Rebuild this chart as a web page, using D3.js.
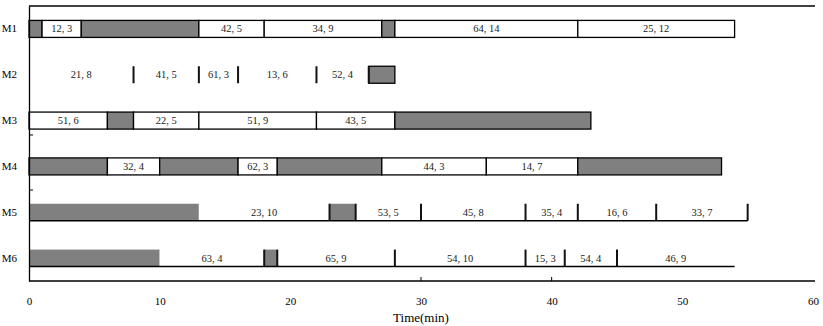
<!DOCTYPE html>
<html><head><meta charset="utf-8">
<script src="https://cdn.jsdelivr.net/npm/d3@7"></script>
<style>body{margin:0;background:#fff}svg{display:block}</style>
</head><body><svg id="c" width="823" height="326"></svg>
<script>
const machines = ["M1","M2","M3","M4","M5","M6"];
const xTicks = [0,10,20,30,40,50,60];
// segments: [machine, start, end, label] ; label null = idle (gray)
const segM1 = [["M1",0,1,null],["M1",1,4,"12, 3"],["M1",4,13,null],["M1",13,18,"42, 5"],["M1",18,27,"34, 9"],["M1",27,28,null],["M1",28,42,"64, 14"],["M1",42,54,"25, 12"]];
const segM2 = [["M2",0,8,"21, 8"],["M2",8,13,"41, 5"],["M2",13,16,"61, 3"],["M2",16,22,"13, 6"],["M2",22,26,"52, 4"],["M2",26,28,null]];
const segM3 = [["M3",0,6,"51, 6"],["M3",6,8,null],["M3",8,13,"22, 5"],["M3",13,22,"51, 9"],["M3",22,28,"43, 5"],["M3",28,43,null]];
const segM4 = [["M4",0,6,null],["M4",6,10,"32, 4"],["M4",10,16,null],["M4",16,19,"62, 3"],["M4",19,27,null],["M4",27,35,"44, 3"],["M4",35,42,"14, 7"],["M4",42,53,null]];
const segM5 = [["M5",0,13,null],["M5",13,23,"23, 10"],["M5",23,25,null],["M5",25,30,"53, 5"],["M5",30,38,"45, 8"],["M5",38,42,"35, 4"],["M5",42,48,"16, 6"],["M5",48,55,"33, 7"]];
const segM6 = [["M6",0,10,null],["M6",10,18,"63, 4"],["M6",18,19,null],["M6",19,28,"65, 9"],["M6",28,38,"54, 10"],["M6",38,41,"15, 3"],["M6",41,45,"54, 4"],["M6",45,54,"46, 9"]];
const boxedRows = ["M1","M3","M4"];
const separators = {M2:[8,13,16,22,26], M5:[23,25,30,38,42,48,55], M6:[18,19,28,38,41,45]};
const bottomLineRows = {M5:55, M6:54};
const innerXTicks = [30,40];

const segments = [].concat(segM1,segM2,segM3,segM4,segM5,segM6);
const svg = d3.select("#c");
const x = d3.scaleLinear().domain([0,60]).range([29,813]);
const y = d3.scaleBand().domain(machines).range([6,281]);
const bh = 17;
const barTop = m => y(m) + (y.bandwidth()-bh)/2;
const GRAY = "#808080";

svg.append("line").attr("x1",29).attr("x2",815).attr("y1",6).attr("y2",6).attr("stroke","#000").attr("stroke-width",1.5);

const g = svg.append("g");
segments.forEach(([m,s,e,lab]) => {
  const boxed = boxedRows.includes(m) || (m==="M2" && lab===null);
  g.append("rect").attr("x",x(s)).attr("y",barTop(m)).attr("width",x(e)-x(s)).attr("height",bh)
    .attr("fill", lab===null ? GRAY : "#fff")
    .attr("stroke", boxed ? "#000" : "none").attr("stroke-width",1.3);
  if (lab) {
    g.append("text").attr("x",(x(s)+x(e))/2).attr("y",barTop(m)+bh/2+3.5)
      .attr("text-anchor","middle").attr("font-family","Liberation Serif, serif").attr("font-size",10.5)
      .attr("fill","#222").text(lab);
  }
});
Object.entries(separators).forEach(([m,arr]) => {
  arr.forEach(t => g.append("line").attr("x1",x(t)).attr("x2",x(t)).attr("y1",barTop(m)).attr("y2",barTop(m)+bh)
    .attr("stroke","#111").attr("stroke-width",2));
});
Object.entries(bottomLineRows).forEach(([m,t]) => {
  g.append("line").attr("x1",x(0)).attr("x2",x(t)).attr("y1",barTop(m)+bh).attr("y2",barTop(m)+bh)
    .attr("stroke","#000").attr("stroke-width",1.5);
});

const ya = svg.append("g").attr("transform","translate(29,0)").call(d3.axisLeft(y).tickSize(0).tickPadding(12));
ya.select(".domain").attr("stroke","#000").attr("stroke-width",1.3);
ya.selectAll("text").attr("font-family","Liberation Serif, serif").attr("font-size",11).attr("fill","#000");
[135,190].forEach(v => svg.append("line").attr("x1",29).attr("x2",33).attr("y1",v).attr("y2",v).attr("stroke","#000"));

const xa = svg.append("g").attr("transform","translate(0,281)").call(d3.axisBottom(x).tickValues(xTicks).tickSize(0).tickPadding(16));
xa.select(".domain").attr("d","M29,0H815").attr("stroke","#000").attr("stroke-width",1.5);
xa.selectAll("text").attr("font-family","Liberation Serif, serif").attr("font-size",11).attr("fill","#000");
innerXTicks.forEach(t => svg.append("line").attr("x1",x(t)).attr("x2",x(t)).attr("y1",277).attr("y2",281).attr("stroke","#000"));

svg.append("text").attr("x",421).attr("y",322).attr("text-anchor","middle")
  .attr("font-family","Liberation Serif, serif").attr("font-size",13).text("Time(min)");
</script></body></html>
